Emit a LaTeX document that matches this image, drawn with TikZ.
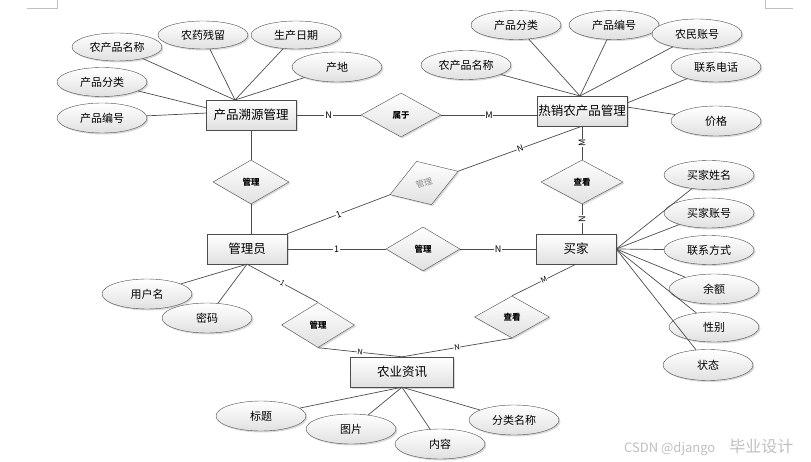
\documentclass[tikz,border=0pt]{standalone}
\usepackage{fontspec}
\setmainfont{Noto Sans CJK SC}
\usetikzlibrary{shapes.geometric,shadows}
\begin{document}
\begin{tikzpicture}[x=1pt,y=-1pt,
  shd/.style={drop shadow={opacity=0.3,shadow xshift=1.5pt,shadow yshift=-1.5pt}},
  ent/.style={draw=black!70, rectangle, minimum width=#1, minimum height=30pt, inner sep=0pt,
    top color=white, bottom color=black!12, shd, font=\fontsize{12.5}{14}\selectfont},
  attr/.style={draw=black!70, ellipse, minimum width=90pt, minimum height=30pt, inner sep=0pt,
    top color=white, bottom color=black!12, shd, font=\fontsize{11}{13}\selectfont},
  rel/.style={draw=black!70, diamond, minimum width=#1, minimum height=44pt, inner sep=0pt,
    top color=white, bottom color=black!12, shd, font=\fontsize{8.5}{10}\selectfont\bfseries},
  ln/.style={draw=black!70, line width=0.7pt},
  lab/.style={fill=white, inner sep=0.8pt, font=\fontsize{9}{10}\selectfont},
  labs/.style={fill=white, inner sep=0.5pt, font=\fontsize{7.5}{8}\selectfont, sloped}
]
\useasboundingbox (0,0) rectangle (811,462);

% page corner marks
\draw[black!25, line width=0.6pt] (27,8) -- (57,8) -- (57,0);
\draw[black!25, line width=0.6pt] (765,0) -- (765,8) -- (793,8);

% entities
\node[ent=90] (ps) at (251,115) {产品溯源管理};
\node[ent=90] (rx) at (582,111) {热销农产品管理};
\node[ent=80] (gly) at (247,249) {管理员};
\node[ent=80] (mj) at (576,249) {买家};
\node[ent=103] (zx) at (402,372) {农业资讯};

% relationships
\node[rel=80] (sy) at (401,115) {属于};
\node[rel=76] (gl1) at (251,182) {管理};
\node[rel=82] (ck1) at (582,182) {查看};
\node[rel=74] (gl2) at (423,249) {管理};
\node[rel=72, minimum height=46pt, rotate=19, text=black!45, font=\fontsize{8.5}{10}\selectfont] (gl3) at (424,183) {管理};
\node[rel=73, minimum height=45pt] (gl4) at (318,325) {管理};
\node[rel=75, minimum height=42pt] (ck2) at (512,317) {查看};

% attributes of 产品溯源管理
\node[attr, minimum height=28pt] (p1) at (117,47) {农产品名称};
\node[attr, minimum height=28pt] (p2) at (203,35) {农药残留};
\node[attr, minimum height=28pt] (p3) at (296,35) {生产日期};
\node[attr] (p4) at (337,67) {产地};
\node[attr, minimum height=29pt] (p5) at (102,82) {产品分类};
\node[attr] (p6) at (102,118) {产品编号};
\coordinate (psT) at (235,100);
\coordinate (psL1) at (207,108);
\coordinate (psL2) at (207,113);
\foreach \a in {p1,p2,p3,p4} \draw[ln] (\a) -- (psT);
\draw[ln] (p5) -- (psL1);
\draw[ln] (p6) -- (psL2);

% attributes of 热销农产品管理
\node[attr, minimum height=29pt] (r1) at (516,25) {产品分类};
\node[attr, minimum height=29pt] (r2) at (614,25) {产品编号};
\node[attr] (r3) at (697,34) {农民账号};
\node[attr, minimum height=29pt] (r4) at (466,65) {农产品名称};
\node[attr] (r5) at (716,67) {联系电话};
\node[attr] (r6) at (716,121) {价格};
\coordinate (rxT) at (580,96);
\coordinate (rxR1) at (627,103);
\coordinate (rxR2) at (627,107);
\foreach \a in {r1,r2,r3,r4} \draw[ln] (\a) -- (rxT);
\draw[ln] (r5) -- (rxR1);
\draw[ln] (r6) -- (rxR2);

% attributes of 买家
\node[attr, minimum height=29pt] (m1) at (709,175) {买家姓名};
\node[attr] (m2) at (709,213) {买家账号};
\node[attr, minimum height=29pt] (m3) at (709,250) {联系方式};
\node[attr] (m4) at (714,289) {余额};
\node[attr] (m5) at (714,327) {性别};
\node[attr, minimum height=31pt] (m6) at (708,365) {状态};
\foreach \a in {m1,m2,m3,m4,m5,m6} \draw[ln] (\a) -- (mj.east);

% attributes of 管理员
\node[attr] (g1) at (147,294) {用户名};
\node[attr] (g2) at (207,318) {密码};
\foreach \a in {g1,g2} \draw[ln] (\a) -- (gly.south);

% attributes of 农业资讯
\node[attr] (z1) at (261,416) {标题};
\node[attr] (z2) at (351,429) {图片};
\node[attr] (z3) at (440,444) {内容};
\node[attr] (z4) at (514,420) {分类名称};
\foreach \a in {z1,z2,z3,z4} \draw[ln] (\a) -- (zx.south);

% relationship connectors
\draw[ln] (ps.east) -- node[lab]{N} (sy.west);
\draw[ln] (sy.east) -- node[lab]{M} (sy.east -| rx.west);
\draw[ln] (ps.south) -- (gl1.north);
\draw[ln] (gl1.south) -- (gl1.south |- gly.north);
\draw[ln] (gly.north east) -- node[labs, font=\fontsize{9}{10}\selectfont]{1} (gl3.west);
\draw[ln] (gl3.east) -- node[labs, font=\fontsize{8.5}{10}\selectfont]{N} (rx.south);
\draw[ln] (rx.south) -- node[lab, rotate=90]{M} (ck1.north);
\draw[ln] (ck1.south) -- node[lab, rotate=90]{N} (ck1.south |- mj.north);
\draw[ln] (gly.east) -- node[lab]{1} (gl2.west);
\draw[ln] (gl2.east) -- node[lab]{N} (mj.west);
\draw[ln] (gly.south) -- node[labs]{1} (gl4.north);
\draw[ln] (gl4.south) -- node[labs]{N} (zx.north);
\draw[ln] (ck2.south) -- node[labs]{N} (zx.north);
\draw[ln] (mj.south) -- node[labs]{M} (ck2.north);

% watermark
\node[anchor=west, text=black!25, inner sep=0pt] (wm) at (624,447)
  {{\fontsize{13}{15}\selectfont CSDN @django}\hspace{14pt}{\fontsize{16}{18}\selectfont 毕业设计}};
\end{tikzpicture}
\end{document}
